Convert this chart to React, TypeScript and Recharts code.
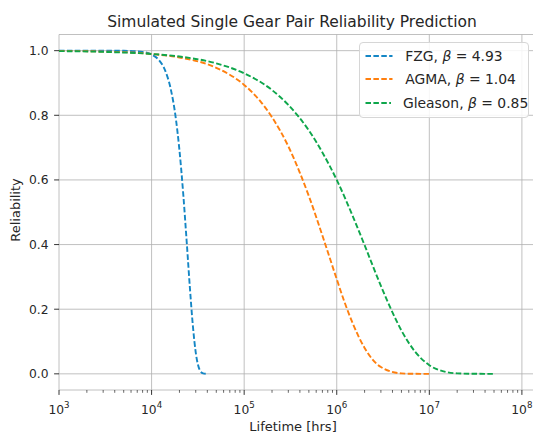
import React from 'react';
import { LineChart, Line, XAxis, YAxis, CartesianGrid, ReferenceLine, ReferenceArea, Legend } from 'recharts';

// values (hours, reliability)
const fzgHours = [1000, 3000, 5000, 8000, 10000, 12000, 14000, 16000, 18000, 20000, 22000, 24000, 26000, 28000, 30000, 33000, 36000, 40000];
const fzgReliability = [1.0, 1.0, 0.9996, 0.996, 0.988, 0.971, 0.939, 0.885, 0.804, 0.692, 0.555, 0.405, 0.262, 0.145, 0.066, 0.013, 0.0013, 0.0];

const agmaHours = [1000, 3000, 10000, 20000, 50000, 100000, 150000, 200000, 300000, 400000, 500000, 700000, 1000000, 1200000, 1500000, 2000000, 3000000, 5000000, 7000000, 10000000];
const agmaReliability = [0.9991, 0.9971, 0.9898, 0.979, 0.947, 0.894, 0.843, 0.794, 0.704, 0.622, 0.55, 0.428, 0.293, 0.226, 0.154, 0.08, 0.021, 0.0014, 0.0001, 0.0];

const gleasonHours = [1000, 3000, 10000, 20000, 50000, 100000, 200000, 300000, 500000, 700000, 1000000, 1500000, 2000000, 3000000, 4000000, 5000000, 7000000, 10000000, 15000000, 20000000, 30000000, 50000000];
const gleasonReliability = [0.9986, 0.9963, 0.9898, 0.9818, 0.9607, 0.93, 0.878, 0.832, 0.753, 0.685, 0.6, 0.486, 0.398, 0.272, 0.19, 0.134, 0.069, 0.0267, 0.006, 0.0015, 0.0001, 0.0];

const seriesNames = ['FZG', 'AGMA', 'Gleason'];
const seriesBetas = ['4.93', '1.04', '0.85'];
const seriesColors = ['#1486c5', '#ff7f0e', '#0ea64b'];

const xMajorTicks = [1e3, 1e4, 1e5, 1e6, 1e7, 1e8];
const xMinorSteps = [2, 3, 4, 5, 6, 7, 8, 9];
const yTicks = [0, 0.2, 0.4, 0.6, 0.8, 1.0];

const FONT = '"DejaVu Sans", sans-serif';
const DASH = '5.5 2.4';

const toRows = (hours: number[], rel: number[]) => hours.map((t, i) => ({ t, r: rel[i] }));
const seriesData = [
  toRows(fzgHours, fzgReliability),
  toRows(agmaHours, agmaReliability),
  toRows(gleasonHours, gleasonReliability),
];

const xTicks = [
  ...xMajorTicks,
  ...xMajorTicks.slice(0, -1).flatMap(d => xMinorSteps.map(m => m * d)),
].sort((a, b) => a - b);

const XTick = (props: any) => {
  const { x, y, payload } = props;
  const e = Math.log10(payload.value);
  const major = Math.abs(e - Math.round(e)) < 1e-6;
  return (
    <g>
      <line x1={x} x2={x} y1={y} y2={y + (major ? 4.9 : 2.8)} stroke="#000" strokeWidth={major ? 0.8 : 0.6} />
      {major && (
        <text x={x} y={y + 23.5} textAnchor="middle" fontSize={12.3} fontFamily={FONT} fill="#262626">
          10<tspan fontSize={8.7} dy={-5.2}>{Math.round(e)}</tspan>
        </text>
      )}
    </g>
  );
};

const renderLegend = () => (
  <div
    style={{
      width: 170,
      height: 76,
      boxSizing: 'border-box',
      background: 'rgba(255,255,255,0.85)',
      border: '1px solid #d6d6d6',
      borderRadius: 4,
      paddingTop: 1,
      fontFamily: FONT,
      fontSize: 13.9,
      color: '#262626',
    }}
  >
    {seriesNames.map((name, i) => (
      <div key={name} style={{ display: 'flex', alignItems: 'center', height: 23.8 }}>
        <svg width={33} height={10} style={{ display: 'block' }}>
          <line x1={5.5} x2={32.5} y1={5} y2={5} stroke={seriesColors[i]} strokeWidth={1.9} strokeDasharray={DASH} />
        </svg>
        <span style={{ marginLeft: 12, whiteSpace: 'nowrap' }}>
          {name}, <i>β</i> = {seriesBetas[i]}
        </span>
      </div>
    ))}
  </div>
);

export default function App() {
  return (
    <div style={{ position: 'absolute', left: 0, top: 0, width: 533, height: 434, background: '#fff' }}>
      <div
        style={{
          position: 'absolute',
          top: 12.5,
          left: 52,
          width: 480,
          textAlign: 'center',
          fontFamily: FONT,
          fontSize: 15.5,
          lineHeight: '18px',
          color: '#262626',
        }}
      >
        Simulated Single Gear Pair Reliability Prediction
      </div>
      <LineChart width={533} height={434} margin={{ top: 34.5, right: 0, bottom: 0, left: 0 }}>
        <CartesianGrid vertical={false} stroke="#b0b0b0" strokeWidth={0.8} />
        {xMajorTicks.map(v => (
          <ReferenceLine key={v} x={v} stroke="#b0b0b0" strokeWidth={0.8} />
        ))}
        <XAxis
          dataKey="t"
          type="number"
          scale="log"
          domain={[1000, Math.pow(10, 8.12)]}
          allowDataOverflow
          ticks={xTicks}
          interval={0}
          height={44}
          tickSize={0}
          tickMargin={0}
          tickLine={false}
          axisLine={false}
          tick={<XTick />}
          label={{
            content: () => (
              <text x={293} y={431} textAnchor="middle" fontSize={13} fontFamily={FONT} fill="#262626">
                Lifetime [hrs]
              </text>
            ),
          }}
        />
        <YAxis
          type="number"
          domain={[-0.05, 1.05]}
          ticks={yTicks}
          interval={0}
          width={59}
          tickSize={4.9}
          tickMargin={5.5}
          tickFormatter={(v: number) => v.toFixed(1)}
          tick={{ fontSize: 12.3, fontFamily: FONT, fill: '#262626' }}
          tickLine={{ stroke: '#000', strokeWidth: 0.8 }}
          axisLine={false}
          label={{
            content: () => (
              <text
                x={20}
                y={210}
                transform="rotate(-90 20 210)"
                textAnchor="middle"
                fontSize={13}
                fontFamily={FONT}
                fill="#262626"
              >
                Reliability
              </text>
            ),
          }}
        />
        <ReferenceArea fill="none" stroke="#222" strokeWidth={0.9} ifOverflow="visible" />
        {seriesData.map((data, i) => (
          <Line
            key={seriesNames[i]}
            data={data}
            dataKey="r"
            name={seriesNames[i]}
            type="monotone"
            stroke={seriesColors[i]}
            strokeWidth={1.9}
            strokeDasharray={DASH}
            dot={false}
            activeDot={false}
            isAnimationActive={false}
          />
        ))}
        <Legend
          layout="horizontal"
          verticalAlign="middle"
          align="center"
          content={renderLegend}
          wrapperStyle={{ top: 41.7, left: 359.3, width: 170, height: 76 }}
        />
      </LineChart>
    </div>
  );
}
